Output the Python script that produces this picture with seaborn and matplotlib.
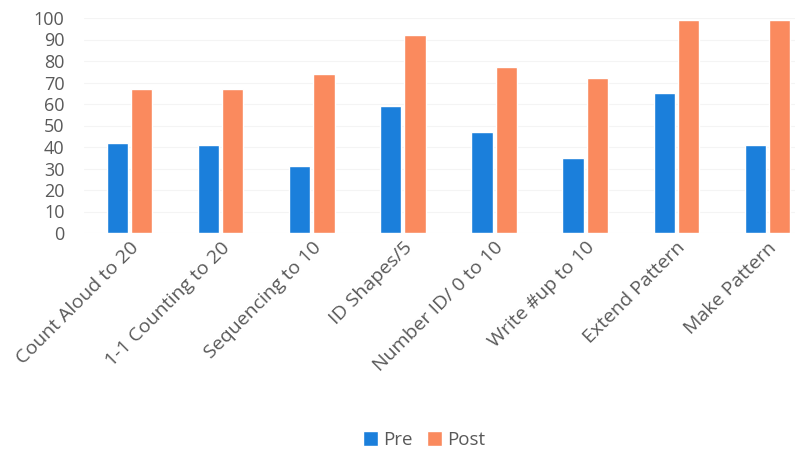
import matplotlib
matplotlib.use("Agg")
import matplotlib.pyplot as plt
import seaborn as sns
import pandas as pd

skills = ["Count Aloud to 20", "1-1 Counting to 20", "Sequencing to 10", "ID Shapes/5",
          "Number ID/ 0 to 10", "Write #up to 10", "Extend Pattern", "Make Pattern"]
pre = [42, 41, 31, 59, 47, 35, 65, 41]
post = [67, 67, 74, 92, 77, 72, 99, 99]

df = pd.DataFrame({
    "skill": skills * 2,
    "score": pre + post,
    "test": ["Pre"] * len(skills) + ["Post"] * len(skills),
})

sns.set_style("white")
plt.rcParams["font.family"] = ["Open Sans", "DejaVu Sans"]

fig = plt.figure(figsize=(7.95, 4.54), dpi=100)
ax = fig.add_axes([84 / 795, (454 - 233) / 454, 729 / 795, 215 / 454])

sns.barplot(data=df, x="skill", y="score", hue="test", ax=ax,
            palette={"Pre": "#1b7fdb", "Post": "#fa8a5e"},
            width=0.53, gap=0.12, saturation=1)

ax.set_ylim(0, 100)
ax.set_xlim(-0.5, len(skills) - 0.5)
ax.set_yticks(range(0, 101, 10))
ax.yaxis.grid(True, color="#f4f4f4", linewidth=0.8)
ax.set_axisbelow(True)
for s in ax.spines.values():
    s.set_visible(False)
ax.set_xlabel("")
ax.set_ylabel("")
ax.tick_params(axis="y", labelsize=13, colors="#595959", length=0, pad=14)
ax.tick_params(axis="x", labelsize=14, colors="#595959", length=0, pad=4)
plt.setp(ax.get_xticklabels(), rotation=45, ha="right", rotation_mode="anchor")

ax.legend(loc="center", ncol=2, frameon=False, fontsize=13.5,
          handlelength=0.8, handleheight=0.8, columnspacing=0.8,
          handletextpad=0.25, labelcolor="#595959")
ax.get_legend().set_bbox_to_anchor((424 / 795, 14 / 454), transform=fig.transFigure)

fig.savefig("out.png", dpi=100)
